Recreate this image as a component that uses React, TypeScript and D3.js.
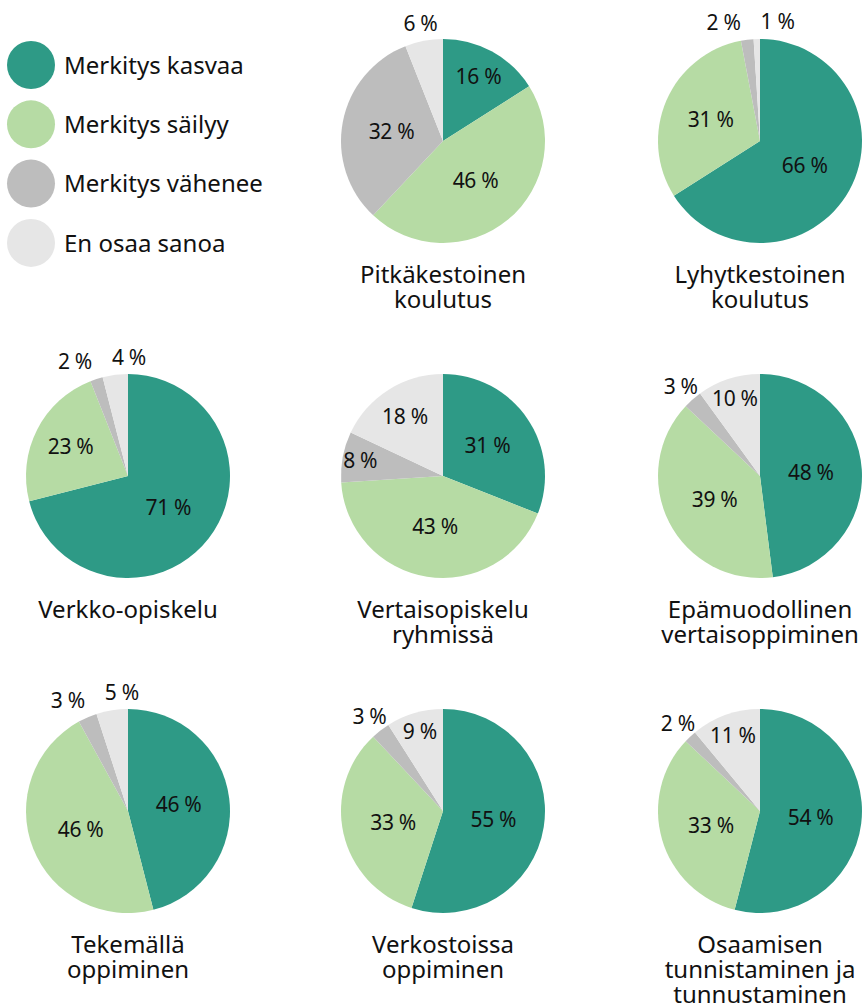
import React from 'react';
import * as d3 from 'd3';

const categories = ['Merkitys kasvaa', 'Merkitys säilyy', 'Merkitys vähenee', 'En osaa sanoa'];
const colors = ['#2e9a86', '#b6dba4', '#bdbdbd', '#e6e6e6'];

const titles = [
  ['Pitkäkestoinen', 'koulutus'],
  ['Lyhytkestoinen', 'koulutus'],
  ['Verkko-opiskelu'],
  ['Vertaisopiskelu', 'ryhmissä'],
  ['Epämuodollinen', 'vertaisoppiminen'],
  ['Tekemällä', 'oppiminen'],
  ['Verkostoissa', 'oppiminen'],
  ['Osaamisen', 'tunnistaminen ja', 'tunnustaminen'],
];

const kasvaa = [16, 66, 71, 31, 48, 46, 55, 54];
const sailyy = [46, 31, 23, 43, 39, 46, 33, 33];
const vahenee = [32, 2, 2, 8, 3, 3, 3, 2];
const enOsaa = [6, 1, 4, 18, 10, 5, 9, 11];

const W = 863;
const H = 1008;
const R = 102;
const colX = [128, 443, 760];
const rowY = [141, 476, 811];
const FONT = '"Noto Sans", "Source Sans Pro", sans-serif';

const pie = d3.pie<number>().value(d => d).sort(null);
const arc = d3.arc<d3.PieArcDatum<number>>().innerRadius(0).outerRadius(R);

function Pie({ values, title, cx, cy }: { values: number[]; title: string[]; cx: number; cy: number }) {
  const arcs = pie(values);
  const total = d3.sum(values);
  const inside: { x: number; y: number; t: string }[] = [];
  let outside: { x: number; y: number; t: string }[] = [];
  arcs.forEach(a => {
    const frac = a.data / total;
    const mid = (a.startAngle + a.endAngle) / 2;
    if (frac >= 0.07) {
      const r = R * Math.max(0.5, 0.93 - 1.3 * frac);
      inside.push({ x: Math.sin(mid) * r, y: -Math.cos(mid) * r, t: `${a.data} %` });
    } else {
      const r = R + 18;
      outside.push({ x: Math.sin(mid) * r, y: -Math.cos(mid) * r, t: `${a.data} %` });
    }
  });
  outside = outside.sort((a, b) => a.x - b.x);
  const minSep = 54;
  for (let i = 1; i < outside.length; i++) {
    const d = outside[i].x - outside[i - 1].x;
    if (d < minSep) {
      const push = (minSep - d) / 2;
      outside[i].x += push;
      outside[i - 1].x -= push;
    }
  }
  return (
    <g transform={`translate(${cx},${cy})`}>
      {arcs.map((a, i) => (
        <path key={i} d={arc(a) ?? ''} fill={colors[i]} />
      ))}
      {inside.concat(outside).map((l, i) => (
        <text key={i} x={l.x} y={l.y} dy="0.36em" textAnchor="middle" fontSize={21} fill="#111" letterSpacing={-0.3}>
          {l.t}
        </text>
      ))}
      {title.map((line, i) => (
        <text key={i} x={0} y={R + 40 + i * 25} textAnchor="middle" fontSize={24} fill="#111">
          {line}
        </text>
      ))}
    </g>
  );
}

export default function App() {
  const slots = [[1, 0], [2, 0], [0, 1], [1, 1], [2, 1], [0, 2], [1, 2], [2, 2]];
  return (
    <svg width={W} height={H} style={{ position: 'absolute', left: 0, top: 0, background: '#fff' }} fontFamily={FONT}>
      <g>
        {categories.map((c, i) => (
          <g key={c} transform={`translate(31,${65 + i * 59.3})`}>
            <circle r={24} fill={colors[i]} />
            <text x={33} dy="0.36em" fontSize={24} fill="#111">{c}</text>
          </g>
        ))}
      </g>
      {titles.map((t, i) => (
        <Pie
          key={i}
          values={[kasvaa[i], sailyy[i], vahenee[i], enOsaa[i]]}
          title={t}
          cx={colX[slots[i][0]]}
          cy={rowY[slots[i][1]]}
        />
      ))}
    </svg>
  );
}
